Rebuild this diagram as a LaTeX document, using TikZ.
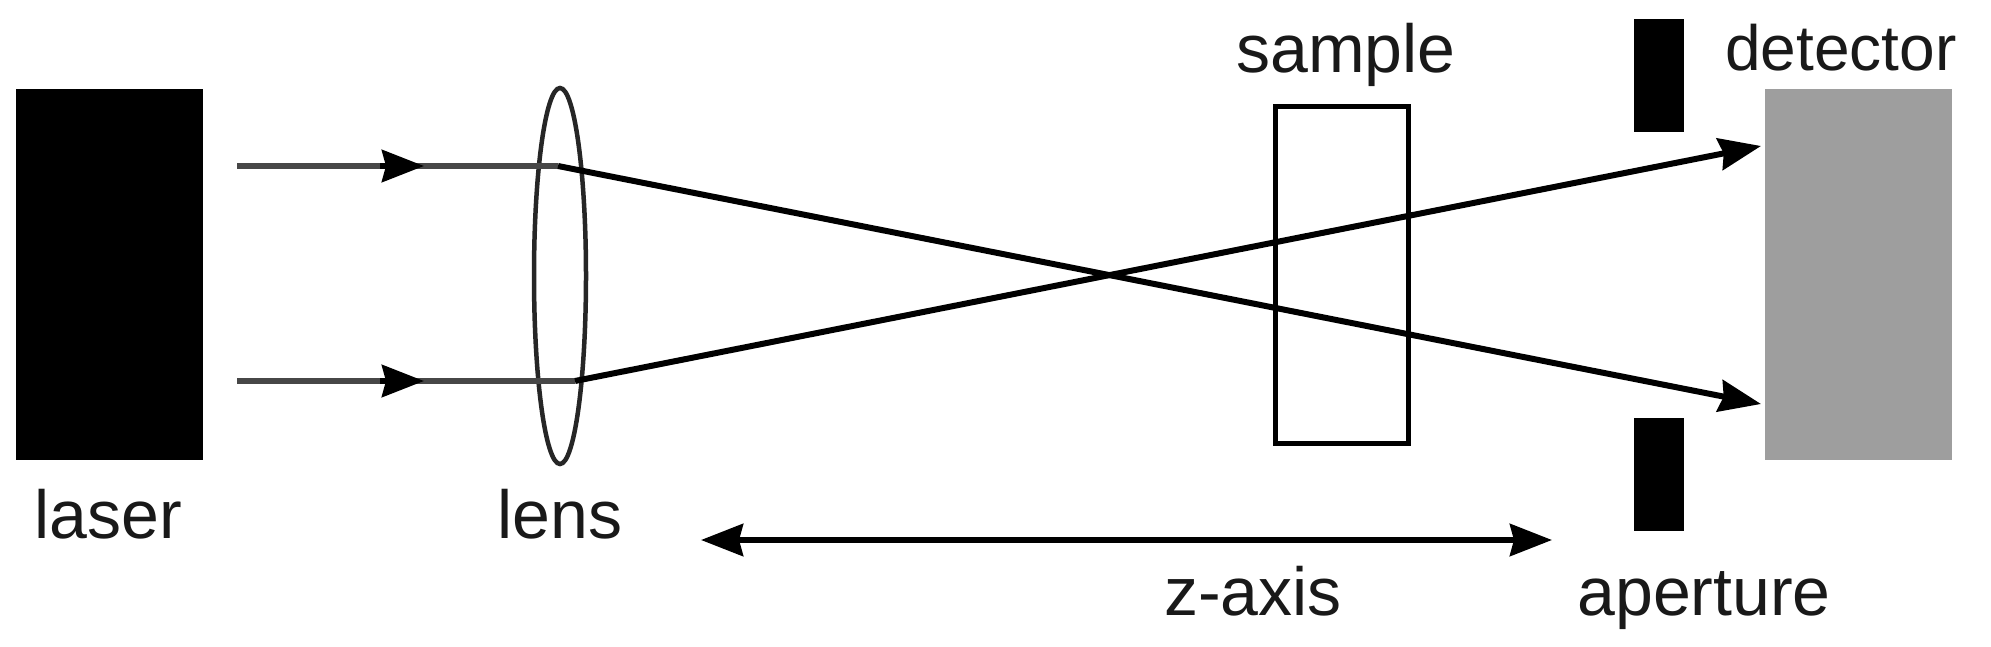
\documentclass[tikz,border=0pt]{standalone}
\usepackage{fontspec}
\setmainfont{Liberation Sans}
\usetikzlibrary{arrows.meta,shapes.geometric}
\tikzset{
  blockbox/.style={rectangle,draw=none,fill=black,inner sep=0pt,minimum width=#1},
  lbl/.style={anchor=base,inner sep=0pt,text=black!90,font=\fontsize{68}{80}\selectfont},
  beamin/.style={line width=6pt,draw=black!72},
  beamout/.style={line width=6pt,draw=black},
  headonly/.style={line width=6pt,draw=black,-{Stealth[length=42pt,width=32pt,inset=4pt]}},
  tip/.style={-{Stealth[length=42pt,width=32pt,inset=4pt]}},
  bitip/.style={{Stealth[length=42pt,width=32pt,inset=4pt]}-{Stealth[length=42pt,width=32pt,inset=4pt]}}
}
\begin{document}
\begin{tikzpicture}[x=1pt,y=-1pt]
\useasboundingbox (0,0) rectangle (1991,647);
\fill[white] (0,0) rectangle (1991,647);
% blocks
\node[blockbox=187pt,minimum height=371pt] (laser) at (109.5,274.5) {};
\node[blockbox=187pt,minimum height=371pt,fill=black!38] (detector) at (1858.5,274.5) {};
\node[blockbox=50pt,minimum height=113pt] (aptop) at (1659,75.5) {};
\node[blockbox=50pt,minimum height=113pt] (apbot) at (1659,474.5) {};
\node[rectangle,draw=black,line width=5pt,fill=none,minimum width=133pt,minimum height=336pt,inner sep=0pt] (sample) at (1341.5,275) {};
\node[ellipse,draw=black!85,line width=4.5pt,minimum width=52pt,minimum height=376pt,inner sep=0pt] (lens) at (560,276) {};
% beam points
\coordinate (s1) at (237,166);
\coordinate (s2) at (237,381);
\coordinate (h1) at (380,166);
\coordinate (h2) at (380,381);
\coordinate (m1) at (424,166);
\coordinate (m2) at (424,381);
\coordinate (b1) at (558,166);
\coordinate (b2) at (575,381);
\coordinate (d1) at (1761,146);
\coordinate (d2) at (1761,404);
\coordinate (zl) at (701,540);
\coordinate (zr) at (1552,540);
% beams
\draw[beamin] (s1) -- (b1);
\draw[beamin] (s2) -- (b2);
\draw[headonly] (h1) -- (m1);
\draw[headonly] (h2) -- (m2);
\draw[beamout,tip] (b1) -- (d2);
\draw[beamout,tip] (b2) -- (d1);
\draw[beamout,bitip] (zl) -- (zr);
% labels
\node[lbl] (tlaser) at (108,538) {laser};
\node[lbl] (tlens) at (560,538) {lens};
\node[lbl] (tz) at (1253,615) {z-axis};
\node[lbl] (tap) at (1704,615) {aperture};
\node[lbl] (tsample) at (1346,73) {sample};
\node[lbl,font=\fontsize{64}{76}\selectfont] (tdet) at (1841,71) {detector};
\end{tikzpicture}
\end{document}
